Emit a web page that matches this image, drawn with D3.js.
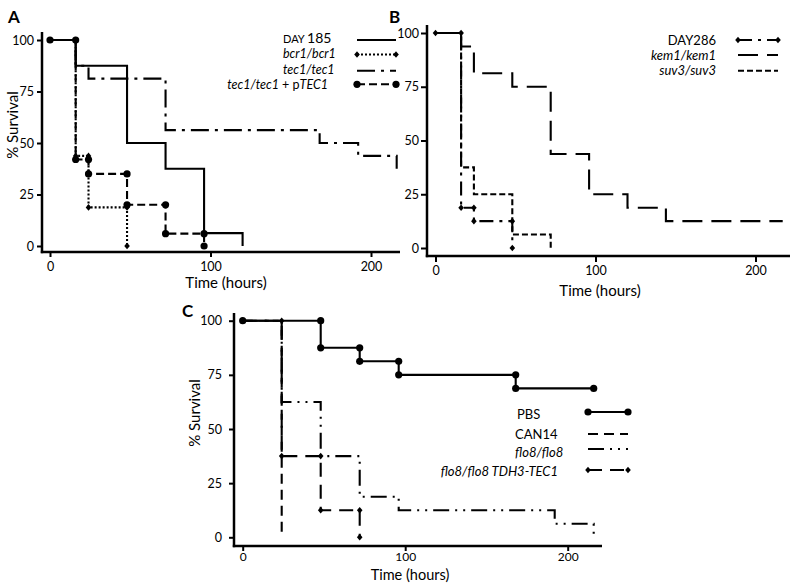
<!DOCTYPE html>
<html><head><meta charset="utf-8">
<script src="https://cdn.jsdelivr.net/npm/d3@7"></script>
<style>
body{margin:0;background:#fff}
svg{display:block}
text{font-family:Lato,"Open Sans",sans-serif;fill:#000}
</style>
</head><body>
<svg id="chart" width="800" height="587"></svg>
<script>
// ---------- DATA ----------
const timeTicks = [0, 100, 200];
const survivalTicks = [0, 25, 50, 75, 100];
const panelLabels = ["A", "B", "C"];
const xTitle = "Time (hours)";
const yTitle = "% Survival";

// Panel A
const aNames = ["DAY 185", "bcr1/bcr1", "tec1/tec1", "tec1/tec1 + pTEC1"];
const aDay185Times = [0, 16, 48, 72, 96, 120];
const aDay185Surv  = [100, 87.5, 50, 37.5, 6.25, 0];
const aBcr1Times = [0, 16, 24, 48];
const aBcr1Surv  = [100, 43.75, 18.75, 0];
const aTec1Times = [0, 16, 24, 72, 168, 192, 216];
const aTec1Surv  = [100, 87.5, 81.25, 56.25, 50, 43.75, 37.5];
const aPTec1Times = [0, 16, 24, 48, 72, 96];
const aPTec1Surv  = [100, 42, 35, 20, 6, 0];

// Panel B
const bNames = ["DAY286", "kem1/kem1", "suv3/suv3"];
const bDay286Times = [0, 16, 24, 48];
const bDay286Surv  = [100, 18.75, 12.5, 0];
const bKem1Times = [0, 16, 24, 48, 72, 96, 120, 144];
const bKem1Surv  = [100, 93.75, 81.25, 75, 43.75, 25, 18.75, 12.5];
const bKem1End = 217;
const bSuv3Times = [0, 16, 24, 48, 72];
const bSuv3Surv  = [100, 37.5, 25, 6.25, 0];

// Panel C
const cNames = ["PBS", "CAN14", "flo8/flo8", "flo8/flo8 TDH3-TEC1"];
const cPbsTimes = [0, 48, 72, 96, 168];
const cPbsSurv  = [100, 87.5, 81.25, 75, 68.75];
const cPbsEnd = 216;
const cCan14Times = [0, 24];
const cCan14Surv  = [100, 0];
const cFlo8Times = [0, 24, 48, 72, 96, 192, 216];
const cFlo8Surv  = [100, 62.5, 37.5, 18.75, 12.5, 6.25, 0];
const cTdh3Times = [0, 24, 48, 72];
const cTdh3Surv  = [100, 37.5, 12.5, 0];

// ---------- DRAWING ----------
const svg = d3.select("#chart");

function diamondPath(cx, cy) {
  return `M${cx},${cy-3.3}L${cx+2.8},${cy}L${cx},${cy+3.3}L${cx-2.8},${cy}Z`;
}
function drawMarker(g, kind, cx, cy) {
  if (kind === "circle") {
    g.append("circle").attr("cx", cx).attr("cy", cy).attr("r", 3.6).attr("fill", "#000");
  } else if (kind === "diamond") {
    g.append("path").attr("d", diamondPath(cx, cy)).attr("fill", "#000");
  }
}

function drawPanel(cfg) {
  const x = d3.scaleLinear().domain([0, 100]).range([cfg.x0, cfg.x100]);
  const y = d3.scaleLinear().domain([0, 100]).range([cfg.y0, cfg.y100]);
  const g = svg.append("g");

  // series
  const line = d3.line().x(d => x(d[0])).y(d => y(d[1])).curve(d3.curveStepAfter);
  cfg.series.forEach(s => {
    const pts = s.times.map((t, i) => [t, s.surv[i]]);
    if (s.end != null) pts.push([s.end, s.surv[s.surv.length - 1]]);
    g.append("path").attr("d", line(pts)).attr("fill", "none")
      .attr("stroke", "#000").attr("stroke-width", 2.1)
      .attr("stroke-dasharray", s.dash || null);
    if (s.marker) {
      const mk = [[s.times[0], s.surv[0]]];
      for (let i = 1; i < s.times.length; i++) {
        mk.push([s.times[i], s.surv[i - 1]]);
        mk.push([s.times[i], s.surv[i]]);
      }
      if (s.end != null) mk.push([s.end, s.surv[s.surv.length - 1]]);
      mk.forEach(p => drawMarker(g, s.marker, x(p[0]), y(p[1])));
    }
  });

  // y axis
  const gy = g.append("g").attr("transform", `translate(${cfg.axisX},0)`)
    .call(d3.axisLeft(y).tickValues(survivalTicks).tickSize(cfg.tickLen).tickPadding(cfg.yPad));
  gy.select(".domain").remove();
  gy.selectAll(".tick line").attr("stroke", "#000").attr("stroke-width", 2);
  gy.selectAll(".tick text").style("font-family", "Lato").style("font-size", "12.5px");

  // x axis
  const gx = g.append("g").attr("transform", `translate(0,${cfg.axisY})`)
    .call(d3.axisBottom(x).tickValues(timeTicks).tickSize(cfg.tickLen).tickPadding(cfg.xPad));
  gx.select(".domain").remove();
  gx.selectAll(".tick line").attr("stroke", "#000").attr("stroke-width", 2);
  gx.selectAll(".tick text").style("font-family", "Lato").style("font-size", (cfg.xTickFs || 12.5) + "px");

  // axis lines
  g.append("line").attr("x1", cfg.axisX).attr("x2", cfg.axisX)
    .attr("y1", cfg.axisTop).attr("y2", cfg.axisY + 1.2)
    .attr("stroke", "#000").attr("stroke-width", 2.5);
  g.append("line").attr("x1", cfg.axisX - 1.2).attr("x2", cfg.axisRight)
    .attr("y1", cfg.axisY).attr("y2", cfg.axisY)
    .attr("stroke", "#000").attr("stroke-width", 2.5);

  // titles
  g.append("text").attr("x", cfg.xTitleX).attr("y", cfg.xTitleY)
    .attr("text-anchor", "middle").style("font-size", (cfg.xTitleFs || 15) + "px").text(xTitle);
  if (cfg.yTitleX != null) {
    g.append("text").attr("transform", `translate(${cfg.yTitleX},${cfg.yTitleY}) rotate(-90)`)
      .attr("text-anchor", "middle").style("font-size", "15px").text(yTitle);
  }
  g.append("text").attr("x", cfg.labelX).attr("y", cfg.labelY)
    .style("font-size", "17px").style("font-weight", "bold").text(cfg.label);

  // legend
  cfg.legend.forEach((L, i) => {
    const s = cfg.series[i];
    const t = g.append("text").attr("x", L.tx).attr("y", L.ty)
      .attr("text-anchor", L.anchor).style("font-size", (L.fs || 13) + "px");
    L.parts.forEach(p => {
      const ts = t.append("tspan").text(p.t);
      if (p.i) ts.style("font-style", "italic");
      if (p.size) ts.style("font-size", p.size + "px");
    });
    g.append("line").attr("x1", cfg.legX1).attr("x2", cfg.legX2)
      .attr("y1", L.ly).attr("y2", L.ly)
      .attr("stroke", "#000").attr("stroke-width", 2.1)
      .attr("stroke-dasharray", s.dash || null);
    if (s.marker) {
      drawMarker(g, s.marker, cfg.legX1, L.ly);
      drawMarker(g, s.marker, cfg.legX2, L.ly);
    }
  });
}

// Panel A
drawPanel({
  label: panelLabels[0], labelX: 8, labelY: 23,
  x0: 50, x100: 210.5, y0: 246, y100: 40,
  axisX: 42, axisY: 252, axisTop: 32, axisRight: 400,
  tickLen: 5, yPad: 3, xPad: 5,
  xTitleX: 226, xTitleY: 288, yTitleX: 18, yTitleY: 125,
  legX1: 357, legX2: 396,
  series: [
    {times: aDay185Times, surv: aDay185Surv, dash: null},
    {times: aBcr1Times, surv: aBcr1Surv, dash: "2,2", marker: "diamond"},
    {times: aTec1Times, surv: aTec1Surv, dash: "18,6,3,6"},
    {times: aPTec1Times, surv: aPTec1Surv, dash: "8,4", marker: "circle"}
  ],
  legend: [
    {tx: 283, ty: 43, anchor: "start", ly: 40, parts: [{t: "DAY ", size: 11}, {t: "185", size: 14}]},
    {tx: 283, ty: 58, anchor: "start", ly: 54.5, fs: 12.5, parts: [{t: aNames[1], i: true}]},
    {tx: 283, ty: 74, anchor: "start", ly: 70.7, fs: 12.5, parts: [{t: aNames[2], i: true}]},
    {tx: 328, ty: 88.5, anchor: "end", ly: 84.3, fs: 12.5, parts: [{t: "tec1/tec1", i: true}, {t: " + p"}, {t: "TEC1", i: true}]}
  ]
});

// Panel B
drawPanel({
  label: panelLabels[1], labelX: 389, labelY: 23,
  x0: 435.5, x100: 595.5, y0: 248, y100: 33,
  axisX: 427, axisY: 256, axisTop: 25, axisRight: 790,
  tickLen: 6, yPad: 2, xPad: 4,
  xTitleX: 600, xTitleY: 296, yTitleX: null,
  legX1: 738, legX2: 778,
  series: [
    {times: bDay286Times, surv: bDay286Surv, dash: "14,6,3,6", marker: "diamond"},
    {times: bKem1Times, surv: bKem1Surv, end: bKem1End, dash: "20,9"},
    {times: bSuv3Times, surv: bSuv3Surv, dash: "6,3"}
  ],
  legend: [
    {tx: 716, ty: 44.5, anchor: "end", ly: 40, parts: [{t: bNames[0]}]},
    {tx: 716, ty: 59.5, anchor: "end", ly: 55, parts: [{t: bNames[1], i: true}]},
    {tx: 716, ty: 75, anchor: "end", ly: 70.7, parts: [{t: bNames[2], i: true}]}
  ]
});

// Panel C
drawPanel({
  label: panelLabels[2], labelX: 182, labelY: 317,
  x0: 242.7, x100: 405.2, y0: 537.3, y100: 320.7,
  axisX: 234, axisY: 546, axisTop: 313, axisRight: 602,
  tickLen: 5, yPad: 7, xPad: 1, xTickFs: 12,
  xTitleX: 410, xTitleY: 580, xTitleFs: 14.5, yTitleX: 200, yTitleY: 413,
  legX1: 588, legX2: 628,
  series: [
    {times: cPbsTimes, surv: cPbsSurv, end: cPbsEnd, dash: null, marker: "circle"},
    {times: cCan14Times, surv: cCan14Surv, dash: "10,6"},
    {times: cFlo8Times, surv: cFlo8Surv, dash: "16,6,2,6,2,6"},
    {times: cTdh3Times, surv: cTdh3Surv, dash: "14,8", marker: "diamond"}
  ],
  legend: [
    {tx: 517, ty: 419, anchor: "start", ly: 412, parts: [{t: cNames[0]}]},
    {tx: 515, ty: 439, anchor: "start", ly: 434, parts: [{t: cNames[1]}]},
    {tx: 515, ty: 457, anchor: "start", ly: 449, parts: [{t: cNames[2], i: true}]},
    {tx: 558, ty: 475.5, anchor: "end", ly: 470, parts: [{t: cNames[3], i: true}]}
  ]
});
</script>
</body></html>
